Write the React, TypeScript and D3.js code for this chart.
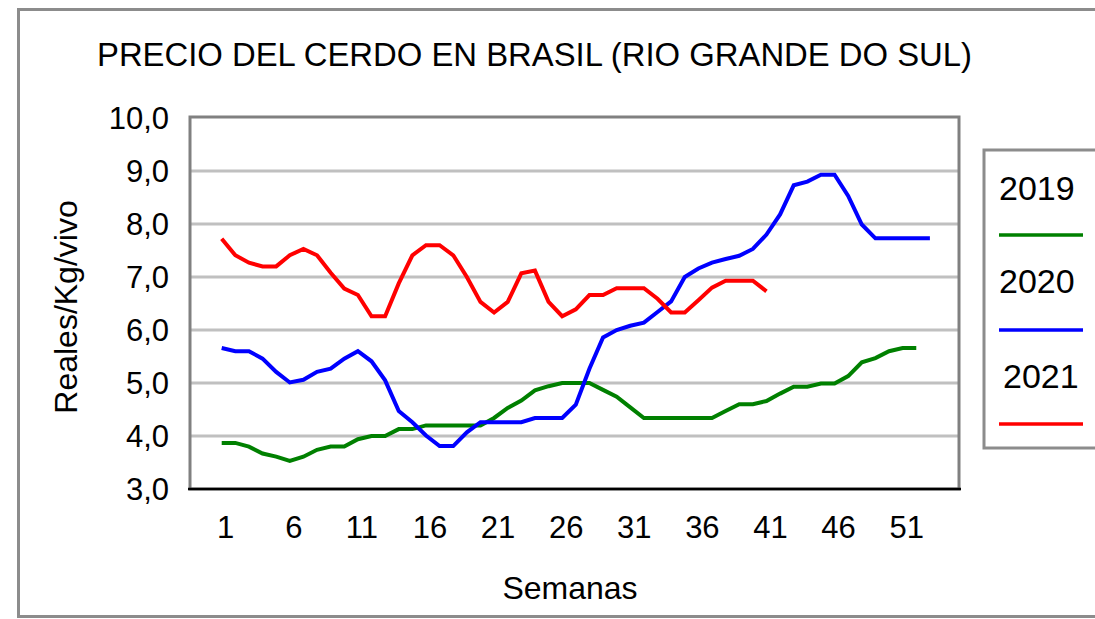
import React from "react";
import * as d3 from "d3";

const title = "PRECIO DEL CERDO EN BRASIL (RIO GRANDE DO SUL)";
const xTitle = "Semanas";
const yTitle = "Reales/Kg/vivo";
const years = ["2019", "2020", "2021"];
const seriesColors = ["#008000", "#0000ff", "#ff0000"];

const v2019 = [
  3.87, 3.87, 3.8, 3.67, 3.61, 3.53, 3.61, 3.74, 3.8, 3.8,
  3.94, 4.0, 4.0, 4.13, 4.13, 4.2, 4.2, 4.2, 4.2, 4.2,
  4.34, 4.53, 4.67, 4.86, 4.94, 5.0, 5.0, 5.0, 4.87, 4.74,
  4.54, 4.34, 4.34, 4.34, 4.34, 4.34, 4.34, 4.47, 4.6, 4.6,
  4.66, 4.8, 4.93, 4.93, 4.99, 4.99, 5.13, 5.39, 5.47, 5.6,
  5.66, 5.66,
];
const v2020 = [
  5.66, 5.6, 5.6, 5.46, 5.21, 5.01, 5.06, 5.21, 5.27, 5.46,
  5.6, 5.41, 5.05, 4.47, 4.26, 4.01, 3.81, 3.81, 4.07, 4.26,
  4.26, 4.26, 4.26, 4.34, 4.34, 4.34, 4.59, 5.27, 5.86, 6.0,
  6.08, 6.14, 6.34, 6.54, 7.0, 7.16, 7.27, 7.34, 7.4, 7.53,
  7.8, 8.18, 8.73, 8.8, 8.93, 8.93, 8.53, 7.99, 7.73, 7.73,
  7.73, 7.73, 7.73,
];
const v2021 = [
  7.72, 7.41, 7.27, 7.2, 7.2, 7.41, 7.53, 7.41, 7.08, 6.78,
  6.66, 6.26, 6.26, 6.88, 7.41, 7.6, 7.6, 7.41, 7.0, 6.53,
  6.33, 6.53, 7.07, 7.12, 6.53, 6.26, 6.39, 6.66, 6.66, 6.79,
  6.79, 6.79, 6.59, 6.33, 6.33, 6.56, 6.8, 6.93, 6.93, 6.93,
  6.73,
];
const seriesValues = [v2019, v2020, v2021];
const yTicks = [3, 4, 5, 6, 7, 8, 9, 10];
const xTicks = [1, 6, 11, 16, 21, 26, 31, 36, 41, 46, 51];

export default function App() {
  const W = 1095;
  const H = 619;
  const plot = { l: 190, r: 959, t: 117, b: 489 };
  const x = d3.scaleLinear().domain([1, 53]).range([221.7, 929.9]);
  const y = d3.scaleLinear().domain([3, 10]).range([plot.b, 118]);
  const line = d3
    .line<number>()
    .x((_, i) => x(i + 1))
    .y((d) => y(d));
  const fmt = (v: number) => d3.format(".1f")(v).replace(".", ",");
  const font = "'Liberation Sans', Arial, sans-serif";

  const legendY = [
    { text: 200, line: 235, dx: 0 },
    { text: 293, line: 330, dx: 0 },
    { text: 388, line: 424, dx: 4 },
  ];

  return (
    <svg
      width={W}
      height={H}
      style={{ position: "absolute", left: 0, top: 0, display: "block" }}
      fontFamily={font}
    >
      <rect x={0} y={0} width={W} height={H} fill="#ffffff" />
      <rect
        x={18.5}
        y={9.5}
        width={1100}
        height={607}
        fill="none"
        stroke="#8c8c8c"
        strokeWidth={3}
      />
      <text
        x={97}
        y={66}
        fontSize={34}
        textLength={875}
        lengthAdjust="spacingAndGlyphs"
        fill="#000"
      >
        {title}
      </text>

      {/* gridlines */}
      {yTicks
        .filter((t) => t > 3 && t < 10)
        .map((t) => (
          <line
            key={"g" + t}
            x1={plot.l}
            x2={plot.r}
            y1={y(t)}
            y2={y(t)}
            stroke="#c0c0c0"
            strokeWidth={3}
          />
        ))}

      {/* plot frame */}
      <rect
        x={plot.l}
        y={plot.t}
        width={plot.r - plot.l}
        height={plot.b - plot.t}
        fill="none"
        stroke="#808080"
        strokeWidth={3}
      />
      <line
        x1={plot.l - 2}
        x2={plot.r + 2}
        y1={plot.b}
        y2={plot.b}
        stroke="#000"
        strokeWidth={2.5}
      />

      {/* series */}
      {seriesValues.map((vals, i) => (
        <path
          key={years[i]}
          d={line(vals) || ""}
          fill="none"
          stroke={seriesColors[i]}
          strokeWidth={4}
          strokeLinejoin="miter"
        />
      ))}

      {/* y ticks */}
      {yTicks.map((t) => (
        <text
          key={"y" + t}
          x={169}
          y={y(t) + 11}
          textAnchor="end"
          fontSize={31}
          fill="#000"
        >
          {fmt(t)}
        </text>
      ))}

      {/* x ticks */}
      {xTicks.map((t) => (
        <text
          key={"x" + t}
          x={x(t) + 4}
          y={538}
          textAnchor="middle"
          fontSize={31}
          fill="#000"
        >
          {t}
        </text>
      ))}

      <text x={570} y={599} textAnchor="middle" fontSize={32} fill="#000">
        {xTitle}
      </text>
      <text
        transform={`translate(77,${307}) rotate(-90)`}
        textAnchor="middle"
        fontSize={32}
        fill="#000"
      >
        {yTitle}
      </text>

      {/* legend */}
      <rect
        x={984}
        y={150}
        width={200}
        height={298}
        fill="#ffffff"
        stroke="#8c8c8c"
        strokeWidth={3}
      />
      {years.map((yr, i) => (
        <g key={"l" + yr}>
          <text
            x={999 + legendY[i].dx}
            y={legendY[i].text}
            fontSize={34}
            fill="#000"
          >
            {yr}
          </text>
          <line
            x1={999}
            x2={1083}
            y1={legendY[i].line}
            y2={legendY[i].line}
            stroke={seriesColors[i]}
            strokeWidth={3.5}
          />
        </g>
      ))}
    </svg>
  );
}
